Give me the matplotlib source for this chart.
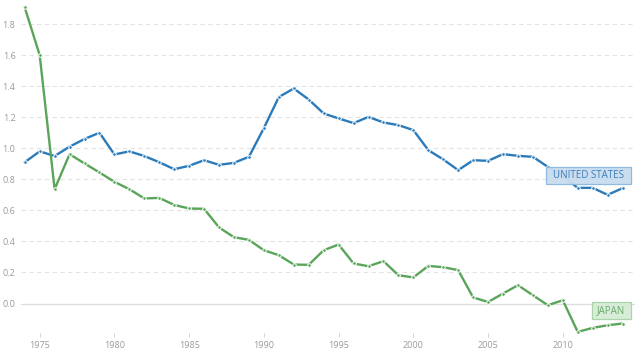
import matplotlib
matplotlib.use("Agg")
from matplotlib import pyplot as plt
from matplotlib.patches import Rectangle
import numpy as np

plt.rcParams['font.family'] = ['Open Sans', 'DejaVu Sans']

# years shown on the chart
years = np.arange(1974, 2015)

# series values
us = [0.91, 0.98, 0.95, 1.01, 1.06, 1.10, 0.96, 0.98, 0.95, 0.91,
      0.865, 0.887, 0.923, 0.893, 0.906, 0.945, 1.13, 1.33, 1.385, 1.314,
      1.224, 1.192, 1.162, 1.202, 1.166, 1.149, 1.117, 0.988, 0.928, 0.859,
      0.923, 0.919, 0.962, 0.951, 0.945, 0.88, 0.82, 0.745, 0.745, 0.70,
      0.743]
japan = [1.907, 1.60, 0.736, 0.962, 0.902, 0.844, 0.784, 0.736, 0.677, 0.680,
         0.635, 0.612, 0.610, 0.49, 0.427, 0.41, 0.343, 0.311, 0.251, 0.249,
         0.343, 0.38, 0.258, 0.24, 0.273, 0.182, 0.168, 0.242, 0.234, 0.215,
         0.039, 0.01, 0.064, 0.118, 0.053, -0.011, 0.021, -0.183, -0.157, -0.140,
         -0.129]

yticks = [0.0, 0.2, 0.4, 0.6, 0.8, 1.0, 1.2, 1.4, 1.6, 1.8]
xticks = [1975, 1980, 1985, 1990, 1995, 2000, 2005, 2010]

blue = '#2b7bba'
green = '#5aa55a'

fig = plt.figure(figsize=(6.4, 3.54), dpi=100)
ax = fig.add_axes([21 / 640, 21 / 354, 614 / 640, 333 / 354])

# grid: dashed lines, solid at zero
for v in yticks:
    if v == 0:
        ax.axhline(v, color='#dddddd', linewidth=0.9, zorder=1)
    else:
        ax.axhline(v, color='#e3e3e3', linewidth=0.8, linestyle=(0, (4, 3)), zorder=1)

ax.plot(years, us, color=blue, linewidth=1.7, marker='o', markersize=2.6,
        markerfacecolor=blue, markeredgecolor='white', markeredgewidth=0.7, zorder=3)
ax.plot(years, japan, color=green, linewidth=1.7, marker='o', markersize=2.6,
        markerfacecolor=green, markeredgecolor='white', markeredgewidth=0.7, zorder=3)

ax.set_xlim(1973.75, 2014.83)
ax.set_ylim(-0.19, 1.955)

for s in ax.spines.values():
    s.set_visible(False)

ax.set_yticks(yticks)
ax.set_yticklabels(['%.1f' % v for v in yticks])
ax.set_xticks(xticks)
ax.tick_params(axis='y', length=0, pad=4, labelsize=6.5, labelcolor='#9a9a9a')
ax.tick_params(axis='x', length=3, width=0.6, color='#cccccc', pad=3,
               labelsize=6.5, labelcolor='#9a9a9a')

# series labels in boxes
ax.add_patch(Rectangle((2008.88, 0.77), 5.68, 0.11, facecolor='#c9ddf0',
                       edgecolor='#8ab8df', linewidth=0.9, zorder=5, alpha=0.95))
ax.text(2011.72, 0.825, 'UNITED STATES', color='#3d7cb8', fontsize=7,
        ha='center', va='center', zorder=6)
ax.add_patch(Rectangle((2011.94, -0.103), 2.6, 0.11, facecolor='#d6ecd6',
                       edgecolor='#a8d3a8', linewidth=0.9, zorder=5, alpha=0.95))
ax.text(2013.24, -0.048, 'JAPAN', color='#6aa86a', fontsize=7,
        ha='center', va='center', zorder=6)

fig.savefig('out.png', dpi=100)
plt.close()
